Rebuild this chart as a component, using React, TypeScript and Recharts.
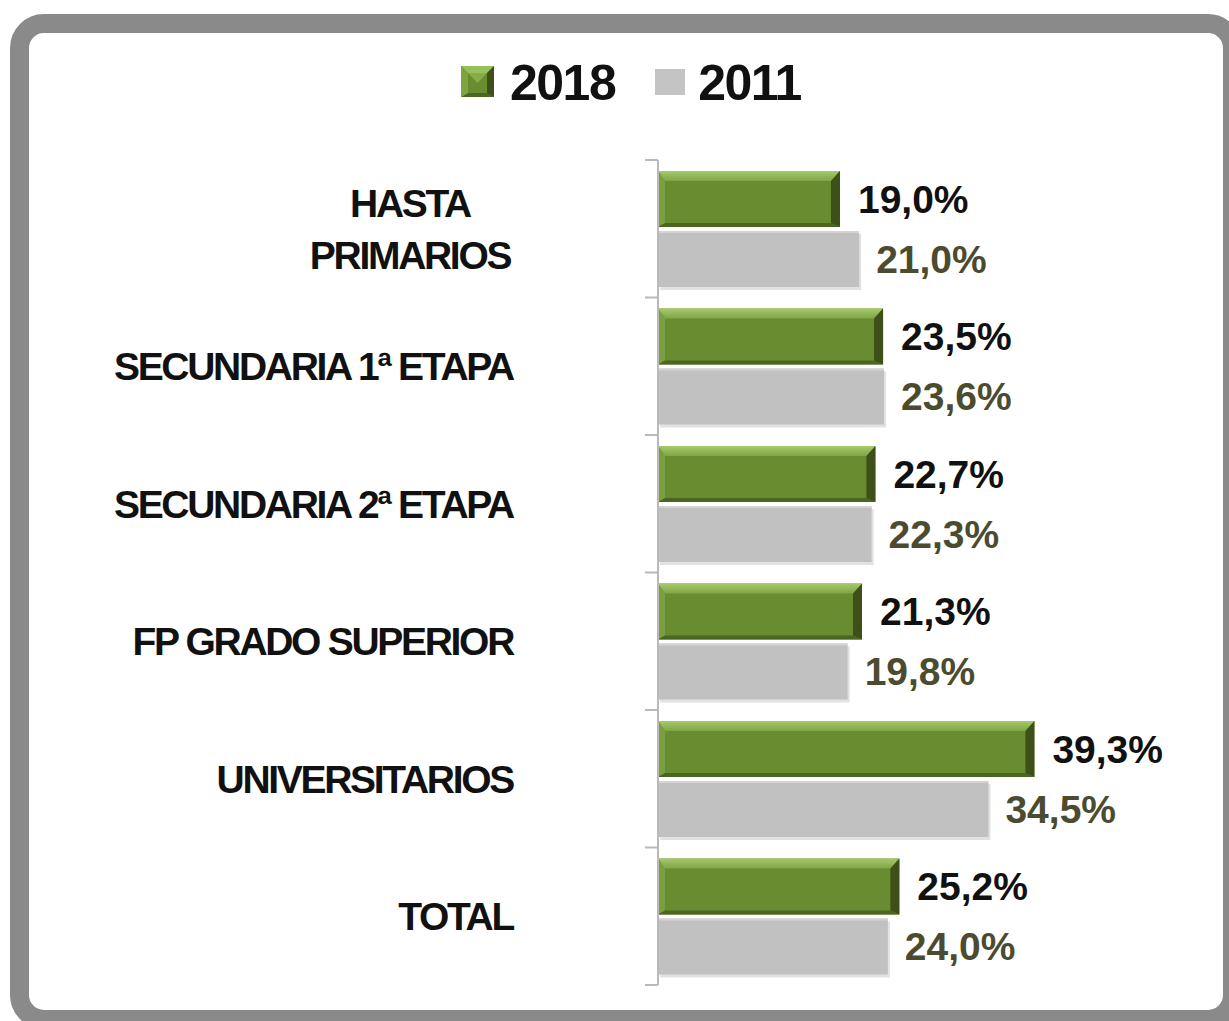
import { BarChart, Bar, XAxis, YAxis, Legend, LabelList } from 'recharts'

const CATEGORIES = [
  'HASTA\nPRIMARIOS',
  'SECUNDARIA 1ª ETAPA',
  'SECUNDARIA 2ª ETAPA',
  'FP GRADO SUPERIOR',
  'UNIVERSITARIOS',
  'TOTAL',
]
const VALUES_2018 = [19.0, 23.5, 22.7, 21.3, 39.3, 25.2]
const VALUES_2011 = [21.0, 23.6, 22.3, 19.8, 34.5, 24.0]
const SERIES_NAMES = ['2018', '2011']

const data = CATEGORIES.map((name, i) => ({
  name,
  y2018: VALUES_2018[i],
  y2011: VALUES_2011[i],
}))

const FONT = '"Liberation Sans", Arial, Helvetica, sans-serif'
const W = 1229
const H = 1021
const MARGIN = { top: 160, right: 140, bottom: 36, left: 0 }
const TICK_MARGIN = 145
const AXIS_COLOR = '#b9b9b9'

const fmt = (v: number) => v.toFixed(1).replace('.', ',') + '%'

function CategoryTick(props: any) {
  const { x, y, payload, index, visibleTicksCount } = props
  const half =
    payload?.offset ?? (H - MARGIN.top - MARGIN.bottom) / CATEGORIES.length / 2
  const axisX = x + TICK_MARGIN
  const lines = String(payload.value).split('\n')
  const isLast = index === visibleTicksCount - 1
  const textStyle = {
    fontFamily: FONT,
    fontSize: 39,
    fontWeight: 700,
    letterSpacing: -2.3,
    fill: '#111',
  }
  return (
    <g>
      <line x1={axisX - 13} x2={axisX} y1={y - half} y2={y - half} stroke={AXIS_COLOR} strokeWidth={2} />
      {isLast && (
        <line x1={axisX - 13} x2={axisX} y1={y + half} y2={y + half} stroke={AXIS_COLOR} strokeWidth={2} />
      )}
      {lines.length === 1 ? (
        <text x={x} y={y + 14} textAnchor="end" style={textStyle}>
          {lines[0]}
        </text>
      ) : (
        lines.map((ln, i) => (
          <text
            key={ln}
            x={x - 103}
            y={y + 14 + (i - (lines.length - 1) / 2) * 52}
            textAnchor="middle"
            style={textStyle}
          >
            {ln}
          </text>
        ))
      )}
    </g>
  )
}

function GreenBar(props: any) {
  const { x, y, width, height } = props
  if (!width || width <= 0) return null
  const t = 10
  const r = 9
  const b = 4
  const l = 7
  const x2 = x + width
  const y2 = y + height
  return (
    <g>
      <rect x={x} y={y} width={width} height={height} fill="#6a8c31" />
      <polygon points={`${x},${y} ${x2},${y} ${x2 - r},${y + t} ${x + l},${y + t}`} fill="url(#greenTop)" />
      <polygon points={`${x},${y} ${x + l},${y + t} ${x + l},${y2 - b} ${x},${y2}`} fill="#7a9f40" />
      <polygon points={`${x},${y2} ${x + l},${y2 - b} ${x2 - r},${y2 - b} ${x2},${y2}`} fill="#4b6621" />
      <polygon points={`${x2},${y} ${x2},${y2} ${x2 - r},${y2 - b} ${x2 - r},${y + t}`} fill="#3d5019" />
    </g>
  )
}

function GrayBar(props: any) {
  const { x, y, width, height } = props
  if (!width || width <= 0) return null
  return (
    <g>
      <rect x={x + 2} y={y + 3} width={width} height={height} fill="#e2e2e2" />
      <rect x={x} y={y} width={width} height={height} fill="#c1c1c1" />
      <rect x={x} y={y} width={width} height={2} fill="#d4d4d4" />
    </g>
  )
}

function LegendContent() {
  const txt = {
    fontFamily: FONT,
    fontSize: 50,
    fontWeight: 700,
    letterSpacing: -1.5,
    color: '#111',
    lineHeight: '50px',
  }
  return (
    <div style={{ display: 'flex', alignItems: 'center' }}>
      <svg width={33} height={31} style={{ marginRight: 16, marginTop: -4 }}>
        <rect x={0} y={0} width={33} height={31} fill="#6a8c31" />
        <polygon points="0,0 33,0 26,7 7,7" fill="#97c05a" />
        <polygon points="33,0 33,31 26,27 26,7" fill="#3d5019" />
        <polygon points="0,31 7,27 26,27 33,31" fill="#4b6621" />
        <polygon points="0,0 7,7 7,27 0,31" fill="#7ea342" />
        <polygon points="7,7 26,7 16.5,17" fill="#86ad48" />
      </svg>
      <span style={txt}>{SERIES_NAMES[0]}</span>
      <div
        style={{ width: 30, height: 26, background: '#c4c4c4', marginLeft: 40, marginRight: 13, marginTop: -2 }}
      />
      <span style={txt}>{SERIES_NAMES[1]}</span>
    </div>
  )
}

export default function App() {
  return (
    <div
      style={{
        position: 'absolute',
        top: 0,
        left: 0,
        width: W,
        height: H,
        overflow: 'hidden',
        background: '#fff',
        fontFamily: FONT,
      }}
    >
      <div
        style={{
          position: 'absolute',
          left: 10,
          top: 14,
          width: 1232,
          height: 1015,
          border: '19px solid #8a8a8a',
          borderRadius: 34,
          boxSizing: 'border-box',
        }}
      />
      <div style={{ position: 'absolute', left: 0, top: 0 }}>
        <BarChart
          width={W}
          height={H}
          data={data}
          layout="vertical"
          margin={MARGIN}
          barSize={56}
          barGap={4}
        >
          <defs>
            <linearGradient id="greenTop" x1="0" y1="0" x2="0" y2="1">
              <stop offset="0%" stopColor="#a7ca6a" />
              <stop offset="100%" stopColor="#7fa546" />
            </linearGradient>
          </defs>
          <XAxis type="number" domain={[0, 45]} hide />
          <YAxis
            type="category"
            dataKey="name"
            width={658}
            interval={0}
            axisLine={{ stroke: AXIS_COLOR, strokeWidth: 2 }}
            tickLine={false}
            tickSize={0}
            tickMargin={TICK_MARGIN}
            tick={<CategoryTick />}
          />
          <Legend
            layout="horizontal"
            align="center"
            verticalAlign="middle"
            content={<LegendContent />}
            wrapperStyle={{ top: 58, left: 461, width: 'auto' }}
          />
          <Bar dataKey="y2018" name={SERIES_NAMES[0]} shape={<GreenBar />} isAnimationActive={false}>
            <LabelList
              dataKey="y2018"
              position="right"
              offset={18}
              formatter={(v: any) => fmt(Number(v))}
              fill="#111"
              style={{ fontFamily: FONT, fontSize: 39, fontWeight: 700 }}
            />
          </Bar>
          <Bar dataKey="y2011" name={SERIES_NAMES[1]} shape={<GrayBar />} isAnimationActive={false}>
            <LabelList
              dataKey="y2011"
              position="right"
              offset={17}
              formatter={(v: any) => fmt(Number(v))}
              fill="#4b4b30"
              style={{ fontFamily: FONT, fontSize: 39, fontWeight: 700 }}
            />
          </Bar>
        </BarChart>
      </div>
    </div>
  )
}
